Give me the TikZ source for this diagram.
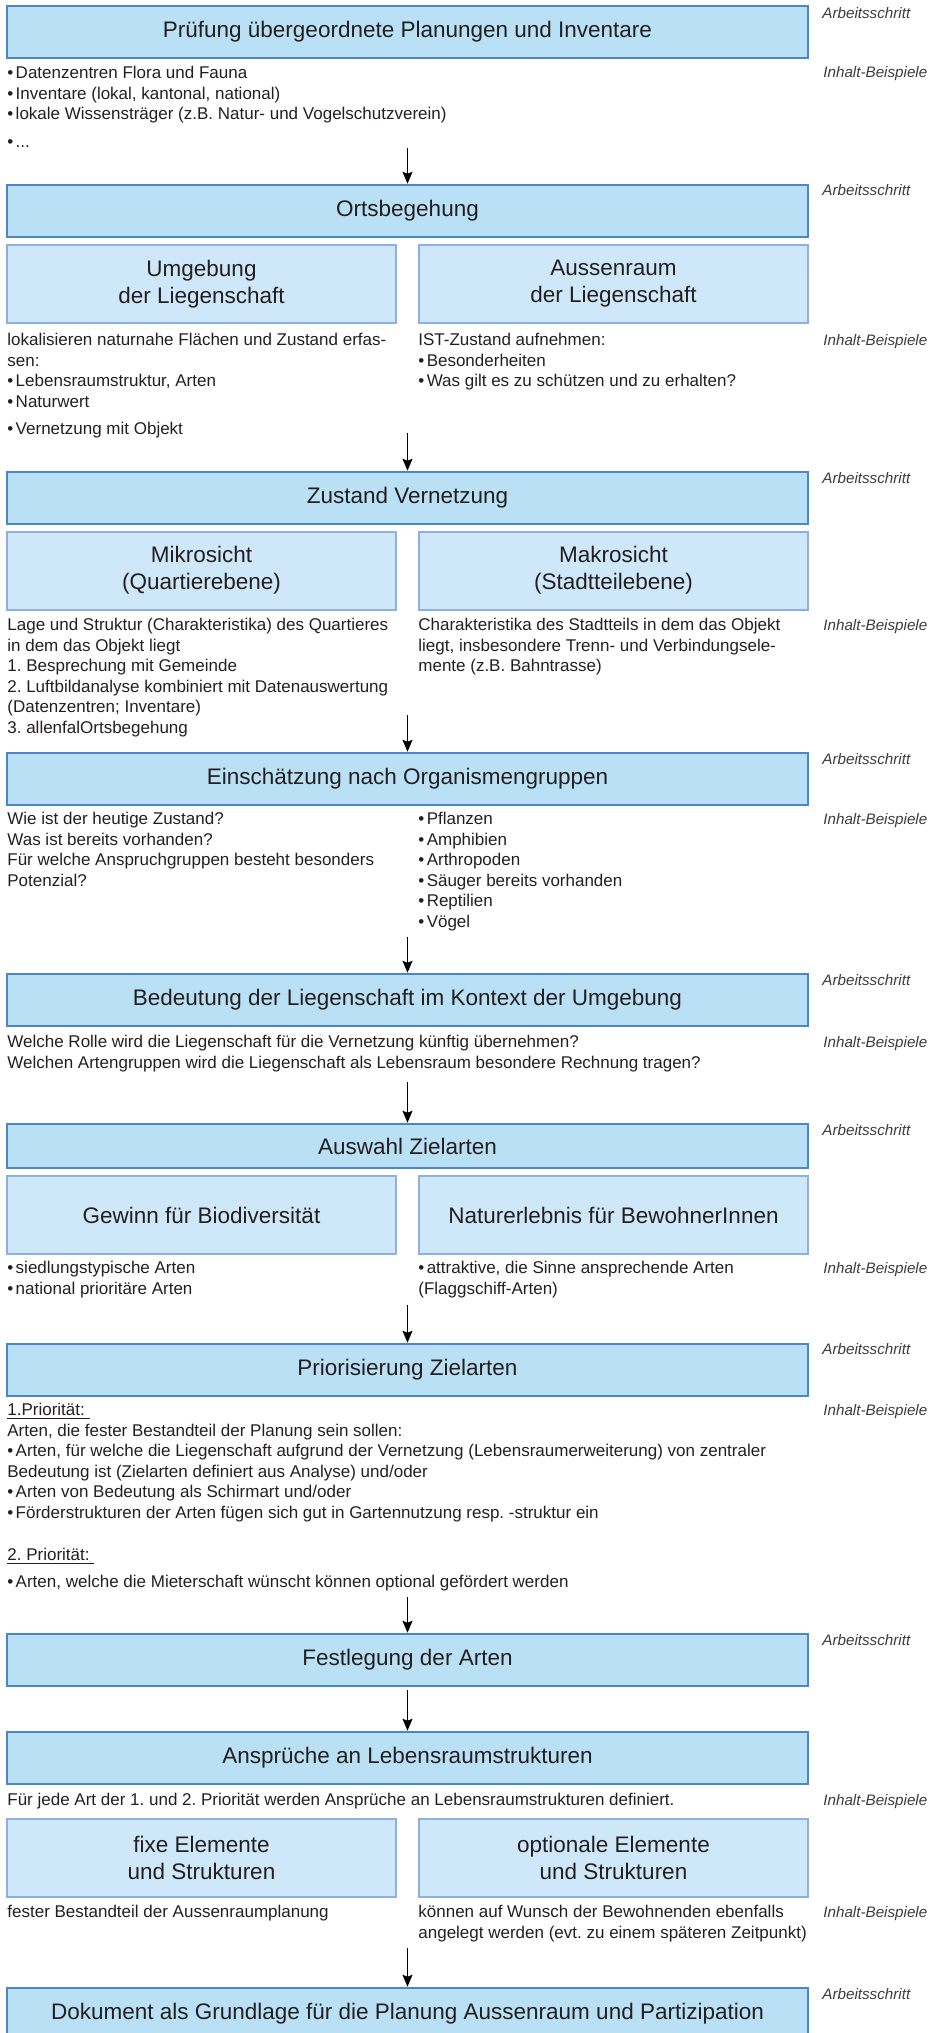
\documentclass[tikz,border=0pt]{standalone}
\usepackage{fontspec}
\setmainfont{Liberation Sans}
\usetikzlibrary{arrows.meta}
\frenchspacing
\definecolor{stepfill}{RGB}{185,224,245}
\definecolor{stepline}{RGB}{74,134,200}
\definecolor{subfill}{RGB}{206,232,249}
\definecolor{subline}{RGB}{140,176,224}
\definecolor{ink}{RGB}{35,31,32}
\definecolor{noteink}{RGB}{60,60,60}
\newcommand{\bul}{\textbullet\hspace{1.2pt}}
\tikzset{
  stepbox/.style={draw=stepline,fill=stepfill,line width=1.25pt,
     minimum width=400.5pt,minimum height=26pt,inner sep=0pt,
     text=ink,font=\fontsize{11.25}{13.5}\selectfont},
  subbox/.style={draw=subline,fill=subfill,line width=1pt,
     minimum width=194.5pt,minimum height=39pt,inner sep=0pt,align=center,
     text=ink,font=\fontsize{11.25}{13.5}\selectfont},
  content/.style={anchor=north west,inner sep=0pt,align=left,
     text=ink,font=\fontsize{8.5}{10.25}\selectfont},
  note/.style={anchor=base west,inner sep=0pt,text=noteink,
     font=\fontsize{7.6}{9}\selectfont\itshape},
  flow/.style={-{Stealth[length=6pt,width=5pt,inset=1pt]},line width=0.75pt}
}
\begin{document}
\begin{tikzpicture}[x=0.5pt,y=-0.5pt]
     \useasboundingbox (0,0) rectangle (928,2033);
     \clip (0,0) rectangle (928,2033);

     \node[stepbox](s1) at (407.5,32) {Prüfung übergeordnete Planungen und Inventare};
     \node[content](t1) at (7,66) {\bul Datenzentren Flora und Fauna\\
        \bul Inventare (lokal, kantonal, national)\\
        \bul lokale Wissensträger (z.B. Natur- und Vogelschutzverein)\\[3.75pt]
        \bul...};

     \node[stepbox](s2) at (407.5,211) {Ortsbegehung};
     \node[subbox](u2) at (201.5,284) {Umgebung\\der Liegenschaft};
     \node[subbox](v2) at (613.5,284) {Aussenraum\\der Liegenschaft};
     \node[content](t2) at (7,333) {lokalisieren naturnahe Flächen und Zustand erfas-\\
        sen:\\
        \bul Lebensraumstruktur, Arten\\
        \bul Naturwert\\[3.25pt]
        \bul Vernetzung mit Objekt};
     \node[content](w2) at (418,333) {IST-Zustand aufnehmen:\\
        \bul Besonderheiten\\
        \bul Was gilt es zu schützen und zu erhalten?};

     \node[stepbox](s3) at (407.5,498) {Zustand Vernetzung};
     \node[subbox](u3) at (201.5,570.5) {Mikrosicht\\(Quartierebene)};
     \node[subbox](v3) at (613.5,570.5) {Makrosicht\\(Stadtteilebene)};
     \node[content](t3) at (7,618) {Lage und Struktur (Charakteristika) des Quartieres\\
        in dem das Objekt liegt\\
        1. Besprechung mit Gemeinde\\
        2. Luftbildanalyse kombiniert mit Datenauswertung\\
        (Datenzentren; Inventare)\\
        3. allenfalOrtsbegehung};
     \node[content](w3) at (418,618) {Charakteristika des Stadtteils in dem das Objekt\\
        liegt, insbesondere Trenn- und Verbindungsele-\\
        mente (z.B. Bahntrasse)};

     \node[stepbox](s4) at (407.5,779) {Einschätzung nach Organismengruppen};
     \node[content](t4) at (7,812) {Wie ist der heutige Zustand?\\
        Was ist bereits vorhanden?\\
        Für welche Anspruchgruppen besteht besonders\\
        Potenzial?};
     \node[content](w4) at (418,812) {\bul Pflanzen\\
        \bul Amphibien\\
        \bul Arthropoden\\
        \bul Säuger bereits vorhanden\\
        \bul Reptilien\\
        \bul Vögel};

     \node[stepbox](s5) at (407.5,1000) {Bedeutung der Liegenschaft im Kontext der Umgebung};
     \node[content](t5) at (7,1035) {Welche Rolle wird die Liegenschaft für die Vernetzung künftig übernehmen?\\
        Welchen Artengruppen wird die Liegenschaft als Lebensraum besondere Rechnung tragen?};

     \node[stepbox,minimum height=22pt](s6) at (407.5,1146) {Auswahl Zielarten};
     \node[subbox](u6) at (201.5,1215) {Gewinn für Biodiversität};
     \node[subbox](v6) at (613.5,1215) {Naturerlebnis für BewohnerInnen};
     \node[content](t6) at (7,1261) {\bul siedlungstypische Arten\\
        \bul national prioritäre Arten};
     \node[content](w6) at (418,1261) {\bul attraktive, die Sinne ansprechende Arten\\
        (Flaggschiff-Arten)};

     \node[stepbox](s7) at (407.5,1370) {Priorisierung Zielarten};
     \node[content](t7) at (7,1403) {\underline{1.Priorität:\ }\\
        Arten, die fester Bestandteil der Planung sein sollen:\\
        \bul Arten, für welche die Liegenschaft aufgrund der Vernetzung (Lebensraumerweiterung) von zentraler\\
        Bedeutung ist (Zielarten definiert aus Analyse) und/oder\\
        \bul Arten von Bedeutung als Schirmart und/oder\\
        \bul Förderstrukturen der Arten fügen sich gut in Gartennutzung resp. -struktur ein\\[10.75pt]
        \underline{2. Priorität:\ }\\[3.25pt]
        \bul Arten, welche die Mieterschaft wünscht können optional gefördert werden};

     \node[stepbox](s8) at (407.5,1660) {Festlegung der Arten};

     \node[stepbox](s9) at (407.5,1758) {Ansprüche an Lebensraumstrukturen};
     \node[content](t9) at (7,1793) {Für jede Art der 1. und 2. Priorität werden Ansprüche an Lebensraumstrukturen definiert.};
     \node[subbox](u9) at (201.5,1857.5) {fixe Elemente\\und Strukturen};
     \node[subbox](v9) at (613.5,1857.5) {optionale Elemente\\und Strukturen};
     \node[content](x9) at (7,1905) {fester Bestandteil der Aussenraumplanung};
     \node[content](w9) at (418,1905) {können auf Wunsch der Bewohnenden ebenfalls\\
        angelegt werden (evt. zu einem späteren Zeitpunkt)};

     \node[stepbox](s10) at (407.5,2014) {Dokument als Grundlage für die Planung Aussenraum und Partizipation};

     \foreach \y in {19,196,483,764,985,1135,1354,1645,1999}
        \node[note] at (822,\y) {Arbeitsschritt};
     \foreach \y in {78,345,630,824,1047,1273,1415,1805,1917}
        \node[note] at (823,\y) {Inhalt-Beispiele};

     \coordinate(a1) at (407.5,148);
     \coordinate(a2) at (407.5,433);
     \coordinate(a3) at (407.5,715);
     \coordinate(a4) at (407.5,937);
     \coordinate(a5) at (407.5,1082);
     \coordinate(a6) at (407.5,1305);
     \coordinate(a7) at (407.5,1597);
     \coordinate(a8) at (407.5,1690);
     \coordinate(a9) at (407.5,1948);
     \draw[flow] (a1) -- (s2);
     \draw[flow] (a2) -- (s3);
     \draw[flow] (a3) -- (s4);
     \draw[flow] (a4) -- (s5);
     \draw[flow] (a5) -- (s6);
     \draw[flow] (a6) -- (s7);
     \draw[flow] (a7) -- (s8);
     \draw[flow] (a8) -- (s9);
     \draw[flow] (a9) -- (s10);
\end{tikzpicture}
\end{document}
